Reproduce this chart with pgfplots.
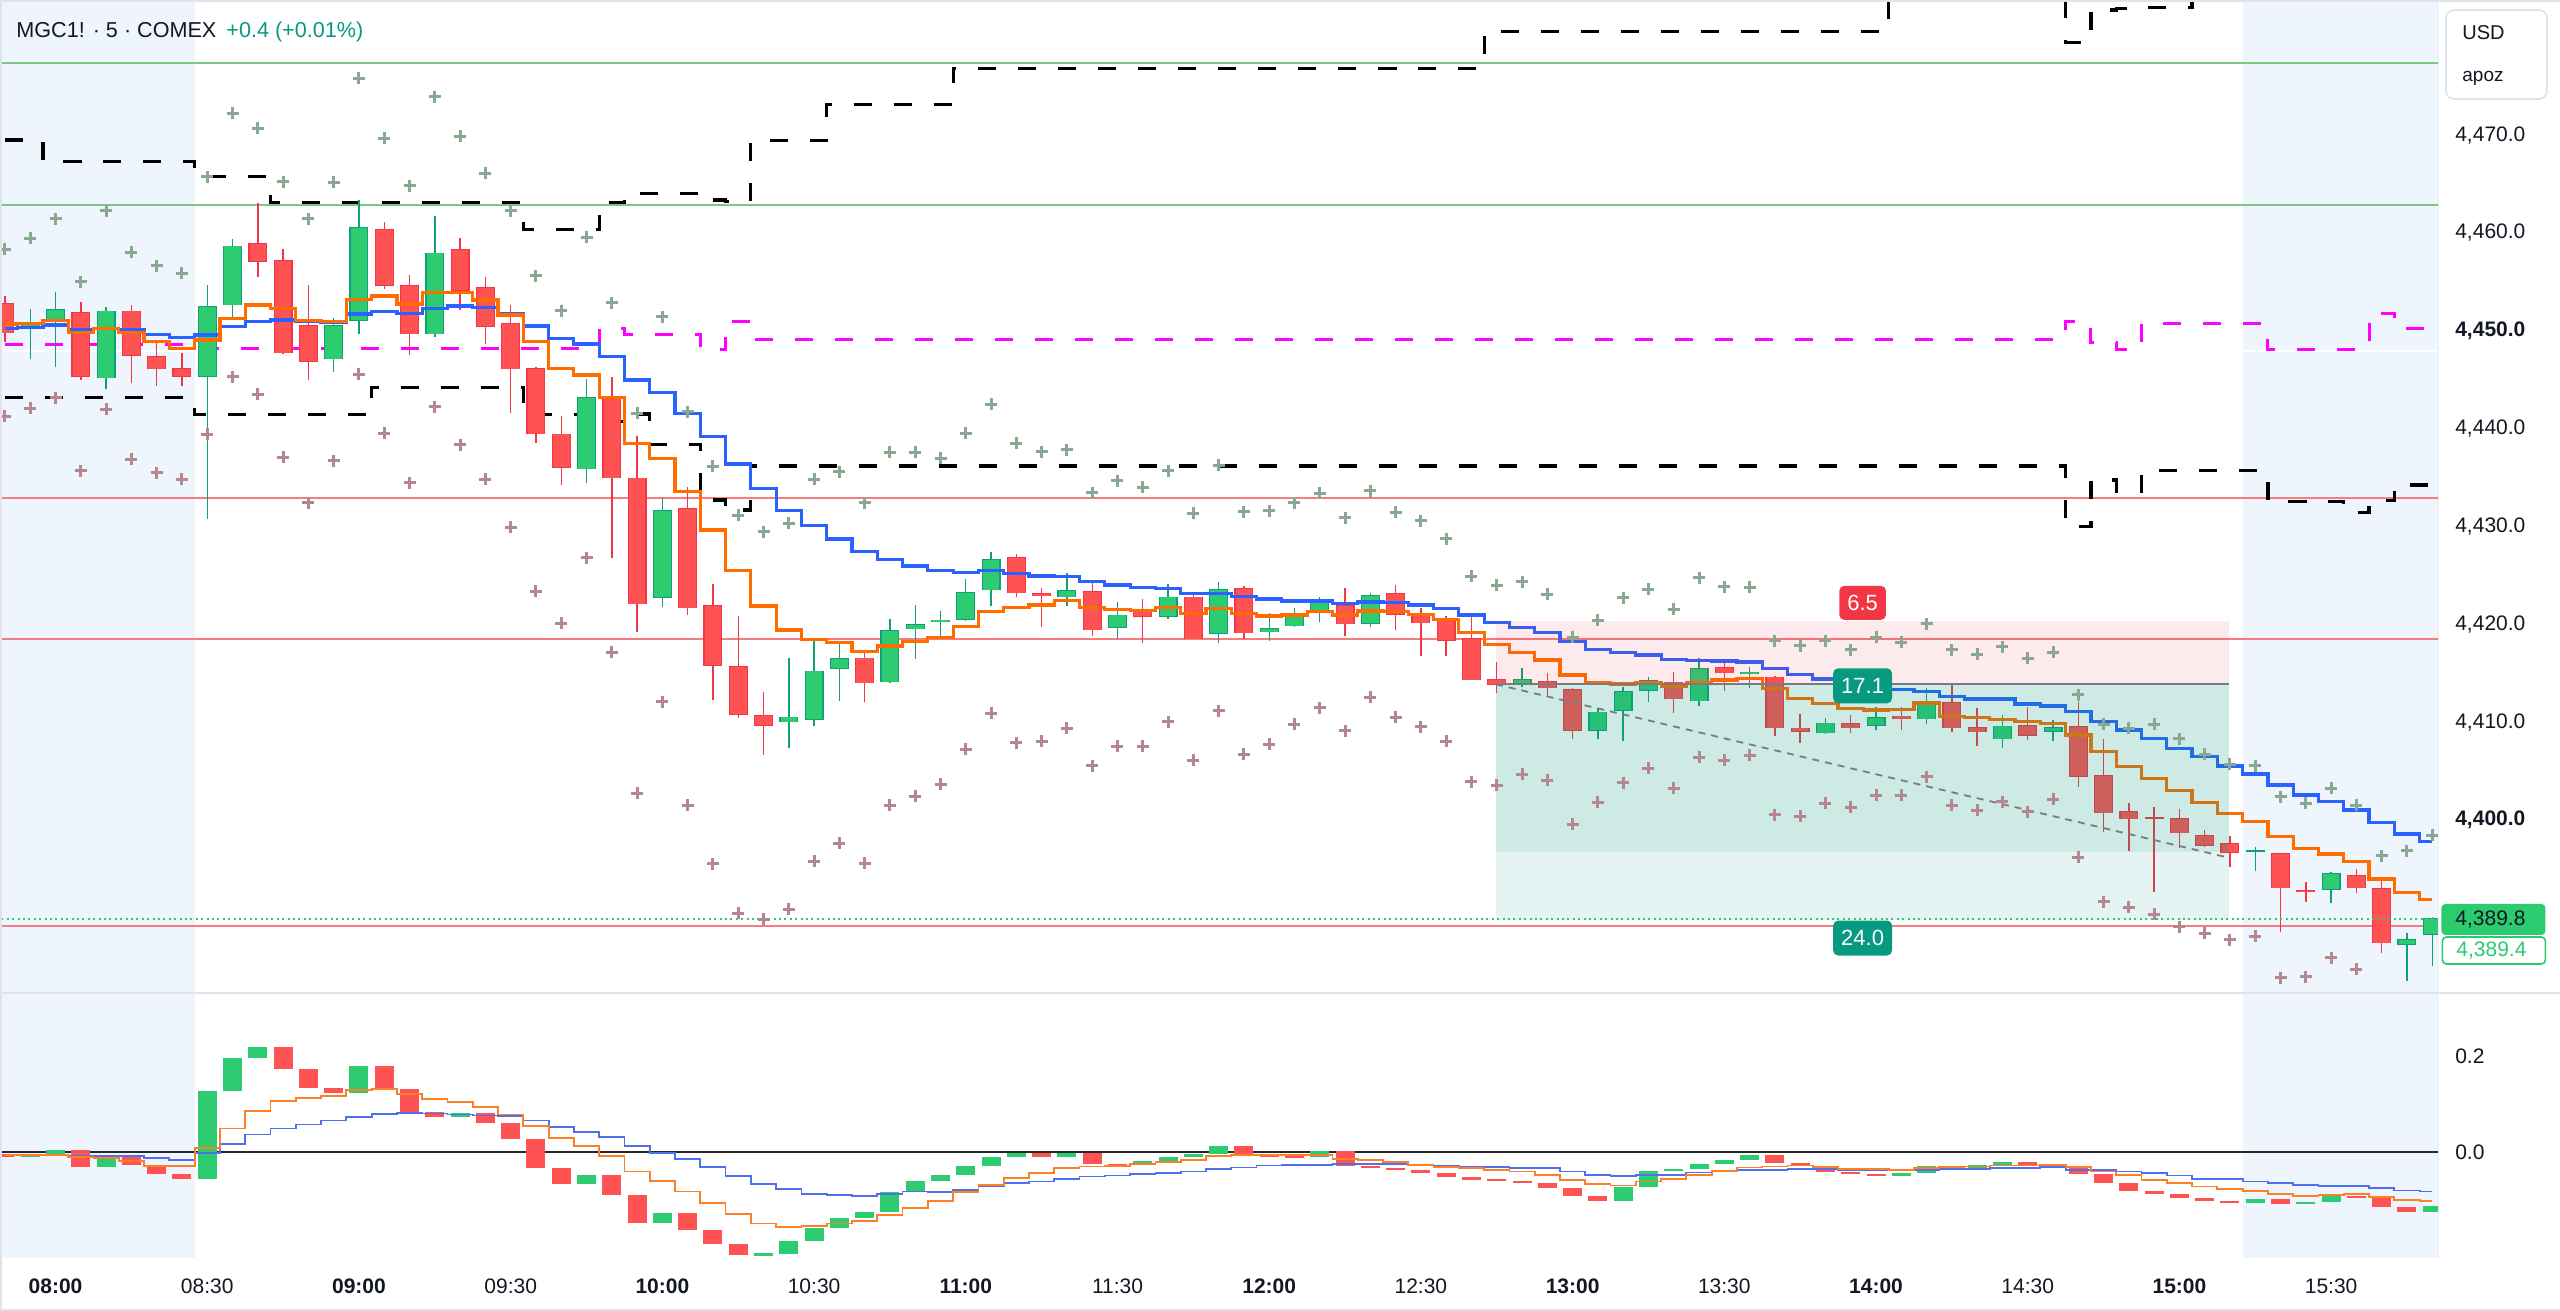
\documentclass[border=0pt]{standalone}
\usepackage{fontspec}
\setmainfont{Liberation Sans}
\usepackage{pgfplots}
\pgfplotsset{compat=1.18}
\usepackage{pgfplotstable}

\definecolor{tvtext}{HTML}{131722}
\definecolor{gfill}{HTML}{2ECC71}
\definecolor{gedge}{HTML}{10A078}
\definecolor{rfill}{HTML}{FF5252}
\definecolor{redge}{HTML}{F23645}
\definecolor{emab}{HTML}{2962FF}
\definecolor{emao}{HTML}{FF6D00}
\definecolor{crossup}{HTML}{88A892}
\definecolor{crossdn}{HTML}{B5878E}
\definecolor{hlg}{HTML}{81C784}
\definecolor{hlr}{HTML}{F77C80}
\definecolor{sess}{HTML}{EEF5FD}
\definecolor{mag}{HTML}{FF00FF}
\definecolor{tvteal}{HTML}{089981}
\definecolor{tvred}{HTML}{F23645}
\definecolor{bord}{HTML}{E0E3EB}
\definecolor{lastg}{HTML}{2BCB70}
\definecolor{toolgray}{HTML}{787B86}
\definecolor{oscb}{HTML}{4D6FF0}
\definecolor{osco}{HTML}{FF7F27}

\pgfplotstableread{
i O H L C U D EB EO UD LD MG
0 4452.65 4453.40 4448.73 4449.59 4458.17 4441.13 4450.10 4450.54 4469.35 4443.01 4448.46
1 4450.10 4452.14 4446.93 4450.78 4459.30 4441.92 4450.20 4450.61 4469.35 4443.01 4448.46
2 4450.78 4453.78 4446.18 4452.08 4461.28 4443.01 4450.44 4450.88 4467.14 4443.01 4448.46
3 4451.73 4452.82 4444.81 4445.16 4454.87 4435.54 4450.00 4449.66 4467.14 4443.01 4448.46
4 4444.99 4452.24 4443.86 4451.90 4462.10 4441.82 4450.10 4450.10 4467.14 4443.01 4448.46
5 4451.90 4452.48 4444.47 4447.27 4457.87 4436.70 4449.93 4449.66 4467.14 4443.01 4448.46
6 4447.27 4448.56 4444.20 4445.91 4456.51 4435.34 4449.49 4448.73 4467.14 4443.01 4448.46
7 4446.01 4447.61 4444.20 4445.16 4455.72 4434.69 4449.14 4448.05 4467.14 4443.01 4448.46
8 4445.16 4454.53 4430.57 4452.38 4465.61 4439.26 4449.42 4448.91 4465.61 4441.30 4448.05
9 4452.48 4459.20 4451.29 4458.55 4472.08 4445.16 4450.27 4451.12 4465.61 4441.30 4448.05
10 4458.79 4462.88 4455.38 4456.91 4470.55 4443.38 4450.78 4452.48 4465.61 4441.30 4448.05
11 4457.08 4458.17 4447.44 4447.54 4465.10 4436.91 4450.95 4452.14 4462.95 4441.30 4448.05
12 4450.44 4454.53 4444.88 4446.69 4461.28 4432.27 4450.78 4450.88 4462.95 4441.30 4448.05
13 4446.93 4451.12 4445.67 4450.44 4465.03 4436.54 4450.68 4450.78 4462.95 4441.30 4448.05
14 4450.88 4463.22 4449.52 4460.42 4475.66 4445.40 4451.56 4453.06 4462.95 4441.30 4448.05
15 4460.25 4461.00 4454.15 4454.43 4469.53 4439.36 4451.80 4453.40 4462.95 4444.07 4448.05
16 4454.53 4455.55 4447.37 4449.49 4464.69 4434.32 4451.63 4452.58 4462.95 4444.07 4448.05
17 4449.49 4461.58 4449.25 4457.84 4473.79 4442.09 4452.14 4453.74 4462.95 4444.07 4448.05
18 4458.18 4459.37 4451.97 4453.92 4469.76 4438.17 4452.38 4453.74 4462.95 4444.07 4448.05
19 4454.29 4455.31 4448.50 4450.27 4465.95 4434.69 4452.24 4452.99 4462.95 4444.07 4448.05
20 4450.61 4452.48 4441.41 4445.91 4462.10 4429.75 4451.63 4451.46 4462.95 4444.07 4448.05
21 4446.01 4446.18 4438.34 4439.30 4455.45 4423.24 4450.34 4448.73 4460.22 4441.30 4448.05
22 4439.36 4441.13 4434.08 4435.85 4451.90 4419.94 4449.08 4446.01 4460.22 4441.30 4448.05
23 4435.68 4444.92 4434.32 4443.04 4459.40 4426.65 4448.50 4445.33 4460.22 4441.30 4448.05
24 4442.94 4445.16 4426.58 4434.78 4452.72 4416.97 4447.20 4443.04 4462.95 4440.56 4450.10
25 4434.84 4439.10 4419.08 4421.88 4441.41 4402.56 4444.81 4438.34 4463.90 4441.34 4449.49
26 4422.56 4432.72 4421.57 4431.52 4451.29 4411.92 4443.52 4436.81 4463.90 4438.24 4449.49
27 4431.70 4433.91 4420.79 4421.47 4441.58 4401.36 4441.41 4433.40 4463.90 4438.24 4449.49
28 4421.81 4423.93 4412.10 4415.57 4436.02 4395.33 4439.02 4429.48 4463.22 4432.55 4447.95
29 4415.57 4420.68 4410.26 4410.56 4431.01 4390.28 4436.23 4425.32 4463.05 4431.52 4450.78
30 4410.56 4412.94 4406.47 4409.44 4429.31 4389.67 4433.74 4421.71 4469.29 4436.02 4448.97
31 4409.82 4416.42 4407.22 4410.39 4430.16 4390.69 4431.45 4419.25 4469.29 4436.02 4448.97
32 4410.05 4418.23 4409.44 4415.09 4434.69 4395.63 4429.92 4418.30 4469.29 4436.02 4448.97
33 4415.30 4417.79 4412.02 4416.36 4435.44 4397.44 4428.56 4417.96 4473.00 4436.02 4448.97
34 4416.42 4416.87 4411.92 4413.80 4432.27 4395.39 4427.26 4417.04 4473.00 4436.02 4448.97
35 4413.91 4420.35 4413.80 4419.25 4437.42 4401.36 4426.48 4417.62 4473.00 4436.02 4448.97
36 4419.33 4421.81 4416.26 4419.84 4437.42 4402.28 4425.80 4418.06 4473.00 4436.02 4448.97
37 4420.12 4421.20 4418.64 4420.32 4436.81 4403.47 4425.32 4418.50 4473.00 4436.02 4448.97
38 4420.28 4424.47 4420.20 4423.14 4439.36 4407.08 4425.12 4419.59 4476.68 4436.02 4448.97
39 4423.34 4427.26 4421.71 4426.48 4442.33 4410.73 4425.32 4421.13 4476.68 4436.02 4448.97
40 4426.69 4427.02 4422.60 4423.01 4438.34 4407.73 4425.05 4421.57 4476.68 4436.02 4448.97
41 4423.04 4423.52 4419.59 4422.73 4437.49 4407.90 4424.77 4421.81 4476.68 4436.02 4448.97
42 4422.60 4425.11 4421.71 4423.34 4437.66 4409.20 4424.71 4422.25 4476.68 4436.02 4448.97
43 4423.24 4424.37 4418.67 4419.25 4433.30 4405.35 4424.19 4421.57 4476.68 4436.02 4448.97
44 4419.49 4422.09 4418.30 4420.82 4434.52 4407.39 4423.85 4421.37 4476.68 4436.02 4448.97
45 4421.30 4422.42 4417.96 4420.61 4433.84 4407.39 4423.58 4421.23 4476.68 4436.02 4448.97
46 4420.61 4423.93 4420.35 4422.66 4435.54 4409.88 4423.48 4421.57 4476.68 4436.02 4448.97
47 4422.66 4422.90 4418.30 4418.33 4431.18 4405.96 4423.00 4420.96 4476.68 4436.02 4448.97
48 4418.84 4424.13 4417.96 4423.42 4436.12 4411.00 4423.00 4421.47 4476.68 4436.02 4448.97
49 4423.52 4423.75 4418.30 4418.92 4431.35 4406.54 4422.66 4420.96 4476.68 4436.02 4448.97
50 4419.02 4420.96 4418.13 4419.43 4431.45 4407.56 4422.42 4420.68 4476.68 4436.02 4448.97
51 4419.66 4421.47 4419.53 4420.79 4432.27 4409.61 4422.22 4420.79 4476.68 4436.02 4448.97
52 4421.12 4422.60 4420.10 4422.04 4433.23 4411.31 4422.22 4421.13 4476.68 4436.02 4448.97
53 4421.81 4423.58 4418.67 4419.84 4430.74 4408.96 4421.98 4420.79 4476.68 4436.02 4448.97
54 4419.87 4423.01 4419.59 4422.83 4433.50 4412.37 4422.12 4421.20 4476.68 4436.02 4448.97
55 4423.01 4423.85 4419.25 4420.79 4431.28 4410.32 4422.05 4421.13 4476.68 4436.02 4448.97
56 4420.96 4421.47 4416.60 4419.94 4430.43 4409.37 4421.81 4420.85 4476.68 4436.02 4448.97
57 4420.28 4420.68 4416.60 4418.16 4428.56 4407.90 4421.47 4420.34 4476.68 4436.02 4448.97
58 4418.40 4420.61 4414.14 4414.14 4424.77 4403.74 4420.79 4418.98 4476.68 4436.02 4448.97
59 4414.24 4416.01 4412.78 4413.63 4423.85 4403.40 4420.04 4417.79 4480.43 4436.02 4448.97
60 4413.80 4415.40 4413.39 4414.24 4424.19 4404.49 4419.53 4416.97 4480.43 4436.02 4448.97
61 4414.04 4414.83 4412.37 4413.29 4422.93 4403.91 4418.98 4416.19 4480.43 4436.02 4448.97
62 4413.22 4413.30 4408.08 4408.96 4418.50 4399.38 4418.06 4414.65 4480.43 4436.02 4448.97
63 4408.96 4411.31 4408.08 4410.90 4420.27 4401.63 4417.28 4413.87 4480.43 4436.02 4448.97
64 4411.00 4413.39 4407.93 4413.02 4422.56 4403.64 4416.93 4413.73 4480.43 4436.02 4448.97
65 4413.05 4414.48 4411.92 4414.14 4423.41 4405.11 4416.70 4413.87 4480.43 4436.02 4448.97
66 4413.97 4414.93 4410.74 4412.20 4421.37 4403.06 4416.25 4413.46 4480.43 4436.02 4448.97
67 4411.99 4416.42 4411.51 4415.34 4424.60 4406.23 4416.12 4413.87 4480.43 4436.02 4448.97
68 4415.44 4415.85 4413.05 4414.83 4423.68 4405.96 4416.08 4414.14 4480.43 4436.02 4448.97
69 4414.75 4415.50 4413.29 4414.99 4423.62 4406.47 4415.98 4414.31 4480.43 4436.02 4448.97
70 4414.48 4414.55 4408.45 4409.20 4418.13 4400.34 4415.33 4413.29 4480.43 4436.02 4448.97
71 4409.26 4410.63 4407.67 4408.85 4417.65 4400.23 4414.72 4412.27 4480.43 4436.02 4448.97
72 4408.69 4410.29 4408.60 4409.78 4418.13 4401.53 4414.24 4411.76 4480.43 4436.02 4448.97
73 4409.71 4410.56 4408.69 4409.20 4417.21 4401.12 4413.90 4411.24 4480.43 4436.02 4448.97
74 4409.44 4411.41 4409.03 4410.33 4418.50 4402.38 4413.50 4411.07 4480.43 4436.02 4448.97
75 4410.49 4411.41 4409.03 4410.12 4417.99 4402.38 4413.19 4411.10 4490.00 4436.02 4448.97
76 4410.12 4413.29 4409.61 4411.92 4419.87 4404.26 4412.95 4411.80 4490.00 4436.02 4448.97
77 4411.86 4413.73 4408.85 4409.20 4417.21 4401.36 4412.44 4410.39 4490.00 4436.02 4448.97
78 4409.30 4411.31 4407.42 4408.79 4416.80 4400.85 4412.20 4410.32 4490.00 4436.02 4448.97
79 4408.08 4410.56 4407.16 4409.47 4417.55 4401.70 4412.20 4410.12 4490.00 4436.02 4448.97
80 4409.54 4411.41 4408.01 4408.45 4416.36 4400.68 4411.69 4409.88 4490.00 4436.02 4448.97
81 4408.85 4410.05 4407.93 4409.30 4416.97 4401.94 4411.48 4409.71 4490.00 4436.02 4448.97
82 4409.44 4411.92 4403.23 4404.25 4412.61 4396.01 4410.90 4408.52 4479.30 4429.82 4450.78
83 4404.43 4408.08 4398.63 4400.51 4409.64 4391.48 4409.88 4406.81 4482.65 4434.60 4448.63
84 4400.75 4401.60 4396.66 4399.93 4409.20 4390.90 4409.03 4405.28 4482.80 4433.40 4447.95
85 4400.10 4401.19 4392.49 4400.03 4409.64 4390.21 4408.18 4404.09 4482.90 4435.54 4450.61
86 4400.00 4400.92 4396.99 4398.47 4408.11 4388.92 4407.15 4402.82 4482.90 4435.54 4450.61
87 4398.29 4398.80 4397.10 4397.20 4406.57 4388.24 4406.30 4401.63 4490.00 4435.54 4450.61
88 4397.44 4398.19 4395.05 4396.48 4405.55 4387.56 4405.35 4400.51 4490.00 4435.54 4450.61
89 4396.61 4397.10 4394.64 4396.69 4405.35 4387.96 4404.53 4399.66 4490.00 4435.54 4450.61
90 4396.42 4396.50 4388.41 4392.84 4402.21 4383.70 4403.40 4398.12 4490.00 4432.37 4447.95
91 4392.67 4393.52 4391.47 4392.54 4401.53 4383.81 4402.38 4396.93 4490.00 4432.37 4447.95
92 4392.67 4394.54 4391.31 4394.38 4403.06 4385.75 4401.70 4396.35 4490.00 4432.37 4447.95
93 4394.20 4394.79 4392.33 4392.84 4401.36 4384.56 4400.85 4395.57 4490.00 4431.30 4447.95
94 4392.84 4393.87 4386.26 4387.22 4396.15 nan 4399.55 4393.79 4490.00 4432.50 4451.63
95 4387.05 4388.30 4383.39 4387.63 4396.66 nan 4398.39 4392.39 4490.00 4434.08 4450.10
96 4388.07 4389.90 4384.90 4389.80 4398.29 nan 4397.61 4391.71 4490.00 4434.08 4450.10
}\maintab

\pgfplotstableread{
i HP HC OB OO
0 -0.0050 -0.0105 -0.0056 -0.0056
1 -0.0105 -0.0042 -0.0056 -0.0056
2 -0.0042 0.0049 -0.0056 -0.0070
3 0.0049 -0.0323 -0.0091 -0.0112
4 -0.0323 -0.0091 -0.0091 -0.0126
5 -0.0091 -0.0281 -0.0091 -0.0196
6 -0.0281 -0.0463 -0.0126 -0.0288
7 -0.0463 -0.0561 -0.0161 -0.0288
8 -0.0561 0.1276 -0.0021 0.0084
9 0.1276 0.1964 0.0168 0.0491
10 0.1964 0.2188 0.0365 0.0856
11 0.2188 0.1732 0.0491 0.1066
12 0.1732 0.1332 0.0575 0.1122
13 0.1332 0.1241 0.0659 0.1171
14 0.1241 0.1802 0.0736 0.1290
15 0.1802 0.1311 0.0799 0.1311
16 0.1311 0.0835 0.0820 0.1206
17 0.0835 0.0736 0.0806 0.1101
18 0.0736 0.0806 0.0785 0.1045
19 0.0806 0.0610 0.0764 0.0940
20 0.0610 0.0273 0.0750 0.0785
21 0.0273 -0.0337 0.0659 0.0540
22 -0.0337 -0.0673 0.0519 0.0295
23 -0.0673 -0.0491 0.0421 0.0119
24 -0.0491 -0.0898 0.0309 -0.0091
25 -0.0898 -0.1494 0.0133 -0.0407
26 -0.1494 -0.1269 -0.0021 -0.0603
27 -0.1269 -0.1620 -0.0140 -0.0827
28 -0.1620 -0.1914 -0.0316 -0.1059
29 -0.1914 -0.2160 -0.0498 -0.1297
30 -0.2160 -0.2125 -0.0666 -0.1494
31 -0.2125 -0.1858 -0.0771 -0.1564
32 -0.1858 -0.1585 -0.0884 -0.1543
33 -0.1585 -0.1388 -0.0898 -0.1494
34 -0.1388 -0.1248 -0.0912 -0.1445
35 -0.1248 -0.0842 -0.0884 -0.1318
36 -0.0842 -0.0603 -0.0827 -0.1164
37 -0.0603 -0.0491 -0.0842 -0.1024
38 -0.0491 -0.0288 -0.0792 -0.0842
39 -0.0288 -0.0105 -0.0722 -0.0687
40 -0.0105 -0.0021 -0.0652 -0.0547
41 -0.0021 -0.0105 -0.0617 -0.0442
42 -0.0105 -0.0021 -0.0561 -0.0337
43 -0.0021 -0.0252 -0.0512 -0.0302
44 -0.0252 -0.0280 -0.0491 -0.0288
45 -0.0280 -0.0196 -0.0463 -0.0252
46 -0.0196 -0.0112 -0.0442 -0.0217
47 -0.0112 -0.0042 -0.0407 -0.0175
48 -0.0042 0.0133 -0.0358 -0.0091
49 0.0133 -0.0056 -0.0323 -0.0070
50 -0.0056 -0.0091 -0.0281 -0.0056
51 -0.0091 -0.0112 -0.0266 -0.0070
52 -0.0112 0.0014 -0.0266 -0.0070
53 0.0014 -0.0287 -0.0252 -0.0140
54 -0.0287 -0.0330 -0.0252 -0.0175
55 -0.0330 -0.0385 -0.0252 -0.0217
56 -0.0385 -0.0442 -0.0281 -0.0266
57 -0.0442 -0.0512 -0.0281 -0.0316
58 -0.0512 -0.0575 -0.0316 -0.0337
59 -0.0575 -0.0610 -0.0316 -0.0372
60 -0.0610 -0.0645 -0.0337 -0.0407
61 -0.0645 -0.0743 -0.0337 -0.0477
62 -0.0743 -0.0912 -0.0407 -0.0582
63 -0.0912 -0.1023 -0.0477 -0.0673
64 -0.1023 -0.0737 -0.0498 -0.0701
65 -0.0737 -0.0407 -0.0477 -0.0617
66 -0.0407 -0.0358 -0.0477 -0.0561
67 -0.0358 -0.0245 -0.0428 -0.0477
68 -0.0245 -0.0161 -0.0386 -0.0393
69 -0.0161 -0.0056 -0.0372 -0.0323
70 -0.0056 -0.0231 -0.0372 -0.0302
71 -0.0231 -0.0287 -0.0358 -0.0281
72 -0.0287 -0.0421 -0.0358 -0.0316
73 -0.0421 -0.0463 -0.0372 -0.0351
74 -0.0463 -0.0505 -0.0372 -0.0358
75 -0.0505 -0.0435 -0.0372 -0.0372
76 -0.0435 -0.0302 -0.0372 -0.0337
77 -0.0302 -0.0337 -0.0351 -0.0316
78 -0.0337 -0.0281 -0.0351 -0.0302
79 -0.0281 -0.0217 -0.0337 -0.0281
80 -0.0217 -0.0302 -0.0337 -0.0281
81 -0.0302 -0.0337 -0.0316 -0.0266
82 -0.0337 -0.0463 -0.0372 -0.0316
83 -0.0463 -0.0652 -0.0372 -0.0407
84 -0.0652 -0.0806 -0.0407 -0.0477
85 -0.0806 -0.0884 -0.0442 -0.0582
86 -0.0884 -0.0968 -0.0491 -0.0652
87 -0.0968 -0.1017 -0.0561 -0.0722
88 -0.1017 -0.1059 -0.0561 -0.0771
89 -0.1059 -0.0982 -0.0617 -0.0813
90 -0.0982 -0.1096 -0.0652 -0.0877
91 -0.1096 -0.1038 -0.0687 -0.0912
92 -0.1038 -0.0912 -0.0708 -0.0898
93 -0.0912 -0.0954 -0.0708 -0.0884
94 -0.0954 -0.1143 -0.0757 -0.0933
95 -0.1143 -0.1262 -0.0806 -0.1003
96 -0.1262 -0.1122 -0.0827 -0.1024
}\osctab

\pgfplotsset{
  tvpane/.style={
    scale only axis, width=1219pt,
    xmin=-0.1977, xmax=96.223,
    axis line style={draw=none}, major tick length=0pt,
    ytick pos=right, yticklabel pos=right,
    yticklabel style={font=\fontsize{10.5}{12}\selectfont, text=tvtext, inner sep=0pt, anchor=base west, xshift=8.5pt, yshift=-3.75pt},
  },
  candle wick/.style={only marks, mark=*, mark size=0pt, mark options={draw=none, fill=none},
    error bars/y dir=both, error bars/y explicit, error bars/error mark=none,
    error bars/error bar style={line width=0.7pt, draw=#1}},
  candle body/.style 2 args={only marks, mark=*, mark size=0pt, mark options={draw=none, fill=none},
    error bars/y dir=both, error bars/y explicit, error bars/error mark=none,
    error bars/error bar style={line width=#1, draw=#2}},
}

\begin{document}
\begin{tikzpicture}
\path[use as bounding box] (0pt,0pt) rectangle (1280pt,655.5pt);
\fill[white] (0pt,0pt) rectangle (1280pt,655.5pt);

% ================= MAIN PANE =================
\begin{axis}[tvpane,
  at={(0pt,159pt)}, anchor=south west, height=496.5pt,
  ymin=4382.14, ymax=4483.67,
  xtick=\empty,
  ytick={4400,4410,4420,4430,4440,4450,4460,4470},
  yticklabels={{\textbf{4,400.0}},{4,410.0},{4,420.0},{4,430.0},{4,440.0},{\textbf{4,450.0}},{4,460.0},{4,470.0}},
]
% session shading
\fill[sess] (axis cs:-1,4380) rectangle (axis cs:7.5,4490);
\fill[sess] (axis cs:88.5,4380) rectangle (axis cs:97,4490);
\draw[white, line width=0.8pt] (axis cs:-1,4447.8) -- (axis cs:97,4447.8);
% horizontal lines
\draw[hlg, line width=1pt] (axis cs:-1,4477.26) -- (axis cs:97,4477.26);
\draw[hlg, line width=1pt] (axis cs:-1,4462.74) -- (axis cs:97,4462.74);
\draw[hlr, line width=1pt] (axis cs:-1,4432.78) -- (axis cs:97,4432.78);
\draw[hlr, line width=1pt] (axis cs:-1,4418.30) -- (axis cs:97,4418.30);
\draw[hlr, line width=1pt] (axis cs:-1,4389.02) -- (axis cs:97,4389.02);

% band crosses
\addplot[only marks, mark=+, mark size=3pt, mark options={line width=1.5pt, draw=crossup}] table[x=i,y=U]{\maintab};
\addplot[only marks, mark=+, mark size=3pt, mark options={line width=1.5pt, draw=crossdn}] table[x=i,y=D]{\maintab};

% dashed step levels
\addplot[const plot mark mid, black, line width=1.6pt, dash pattern=on 9pt off 11pt] table[x=i,y=UD]{\maintab};
\addplot[const plot mark mid, black, line width=1.6pt, dash pattern=on 9pt off 11pt] table[x=i,y=LD]{\maintab};
\addplot[const plot mark mid, mag, line width=1.5pt, dash pattern=on 9pt off 11pt] table[x=i,y=MG]{\maintab};

% candles: green
\addplot[restrict expr to domain={\thisrow{C}-\thisrow{O}}{0:1000}, candle wick=gedge]
  table[x=i, y expr={(\thisrow{H}+\thisrow{L})/2}, y error expr={(\thisrow{H}-\thisrow{L})/2}]{\maintab};
\addplot[restrict expr to domain={\thisrow{C}-\thisrow{O}}{0:1000}, candle body={9.5pt}{gedge}]
  table[x=i, y expr={(\thisrow{O}+\thisrow{C})/2}, y error expr={max(abs(\thisrow{C}-\thisrow{O})/2,0.07)}]{\maintab};
\addplot[restrict expr to domain={\thisrow{C}-\thisrow{O}}{0:1000}, candle body={8.3pt}{gfill}]
  table[x=i, y expr={(\thisrow{O}+\thisrow{C})/2}, y error expr={max(abs(\thisrow{C}-\thisrow{O})/2-0.06,0)}]{\maintab};
% candles: red
\addplot[restrict expr to domain={\thisrow{C}-\thisrow{O}}{-1000:-0.0001}, candle wick=redge]
  table[x=i, y expr={(\thisrow{H}+\thisrow{L})/2}, y error expr={(\thisrow{H}-\thisrow{L})/2}]{\maintab};
\addplot[restrict expr to domain={\thisrow{C}-\thisrow{O}}{-1000:-0.0001}, candle body={9.5pt}{redge}]
  table[x=i, y expr={(\thisrow{O}+\thisrow{C})/2}, y error expr={max(abs(\thisrow{C}-\thisrow{O})/2,0.07)}]{\maintab};
\addplot[restrict expr to domain={\thisrow{C}-\thisrow{O}}{-1000:-0.0001}, candle body={8.3pt}{rfill}]
  table[x=i, y expr={(\thisrow{O}+\thisrow{C})/2}, y error expr={max(abs(\thisrow{C}-\thisrow{O})/2-0.06,0)}]{\maintab};

% moving averages
\addplot[const plot mark mid, emab, line width=1.6pt] table[x=i,y=EB]{\maintab};
\addplot[const plot mark mid, emao, line width=1.6pt] table[x=i,y=EO]{\maintab};

% short position tool
\fill[tvred, opacity=0.1] (axis cs:58.97,4413.7) rectangle (axis cs:87.96,4420.2);
\fill[tvteal, opacity=0.2] (axis cs:58.97,4396.6) rectangle (axis cs:87.96,4413.7);
\fill[tvteal, opacity=0.1] (axis cs:58.97,4389.65) rectangle (axis cs:87.96,4396.6);
\draw[toolgray, line width=0.9pt] (axis cs:58.97,4413.7) -- (axis cs:87.96,4413.7);
\draw[toolgray, line width=0.9pt, dash pattern=on 3.5pt off 3pt] (axis cs:58.97,4413.7) -- (axis cs:87.84,4396.04);
\node[fill=tvred, text=white, rounded corners=2.5pt, inner xsep=4pt, minimum height=17pt, font=\fontsize{11}{13}\selectfont] at (axis cs:73.47,4422.03) {6.5};
\node[fill=tvteal, text=white, rounded corners=2.5pt, inner xsep=4pt, minimum height=17.5pt, font=\fontsize{11}{13}\selectfont] at (axis cs:73.47,4413.55) {17.1};
\node[fill=tvteal, text=white, rounded corners=2.5pt, inner xsep=4pt, minimum height=17.5pt, font=\fontsize{11}{13}\selectfont] at (axis cs:73.47,4387.76) {24.0};

% last price dotted line
\draw[lastg, line width=0.9pt, dash pattern=on 1pt off 1.7pt] (axis cs:-1,4389.73) -- (axis cs:97,4389.73);
\end{axis}

% ================= LOWER PANE =================
\begin{axis}[tvpane,
  at={(0pt,26.5pt)}, anchor=south west, height=132.5pt,
  ymin=-0.2215, ymax=0.3323,
  ytick={0,0.2}, yticklabels={0.0,0.2},
  xtick={2,8,14,20,26,32,38,44,50,56,62,68,74,80,86,92},
  xticklabels={\textbf{08:00},08:30,\textbf{09:00},09:30,\textbf{10:00},10:30,\textbf{11:00},11:30,\textbf{12:00},12:30,\textbf{13:00},13:30,\textbf{14:00},14:30,\textbf{15:00},15:30},
  xticklabel style={font=\fontsize{10.5}{12}\selectfont, text=tvtext, inner sep=0pt, anchor=base, yshift=-17.8pt},
]
\fill[sess] (axis cs:-1,-0.3) rectangle (axis cs:7.5,0.4);
\fill[sess] (axis cs:88.5,-0.3) rectangle (axis cs:97,0.4);
\draw[black!85, line width=1.1pt] (axis cs:-1,0) -- (axis cs:97,0);
\addplot[restrict expr to domain={\thisrow{HC}-\thisrow{HP}}{0:10}, candle body={9.5pt}{gfill}]
  table[x=i, y expr={(\thisrow{HC}+\thisrow{HP})/2}, y error expr={max(abs(\thisrow{HC}-\thisrow{HP})/2,0.0022)}]{\osctab};
\addplot[restrict expr to domain={\thisrow{HC}-\thisrow{HP}}{-10:-0.00001}, candle body={9.5pt}{rfill}]
  table[x=i, y expr={(\thisrow{HC}+\thisrow{HP})/2}, y error expr={max(abs(\thisrow{HC}-\thisrow{HP})/2,0.0022)}]{\osctab};
\addplot[const plot mark mid, oscb, line width=0.9pt] table[x=i,y=OB]{\osctab};
\addplot[const plot mark mid, osco, line width=0.9pt] table[x=i,y=OO]{\osctab};
\end{axis}

% ================= FRAME & LABELS =================
\draw[bord, line width=1pt] (0pt,655pt) -- (1280pt,655pt);
\draw[bord, line width=0.8pt] (0.4pt,0pt) -- (0.4pt,655.5pt);
\draw[bord, line width=1.2pt] (0pt,159pt) -- (1280pt,159pt);
\draw[bord!60, line width=0.6pt] (1219.3pt,26.5pt) -- (1219.3pt,655pt);
\draw[bord, line width=1pt] (0pt,0.5pt) -- (1280pt,0.5pt);

% title
\node[anchor=base west, inner sep=0pt, text=tvtext, font=\fontsize{10.8}{12}\selectfont] at (8pt,636.5pt) {MGC1! · 5 · COMEX};
\node[anchor=base west, inner sep=0pt, text=tvteal, font=\fontsize{10.8}{12}\selectfont] at (113pt,636.5pt) {+0.4 (+0.01\%)};

% currency box
\draw[bord, line width=0.8pt, fill=white, rounded corners=4pt] (1223pt,606pt) rectangle (1273.5pt,650.5pt);
\node[anchor=base west, inner sep=0pt, text=tvtext, font=\fontsize{10}{12}\selectfont] at (1231pt,635.8pt) {USD};
\node[anchor=base west, inner sep=0pt, text=tvtext, font=\fontsize{9.5}{12}\selectfont] at (1231pt,614.7pt) {apoz};

% last price labels
\node[anchor=west, fill=lastg, rounded corners=2pt, inner xsep=7pt, inner ysep=0pt, minimum height=15.5pt, text width=38pt, align=left, text=tvtext, font=\fontsize{10.5}{12}\selectfont] at (1220.5pt,195.75pt) {4,389.8};
\node[anchor=west, fill=white, draw=lastg, line width=0.8pt, rounded corners=2pt, inner xsep=7pt, inner ysep=0pt, minimum height=13.5pt, text width=37.5pt, align=left, text=lastg, font=\fontsize{10.5}{12}\selectfont] at (1220.8pt,180.25pt) {4,389.4};
\end{tikzpicture}
\end{document}
